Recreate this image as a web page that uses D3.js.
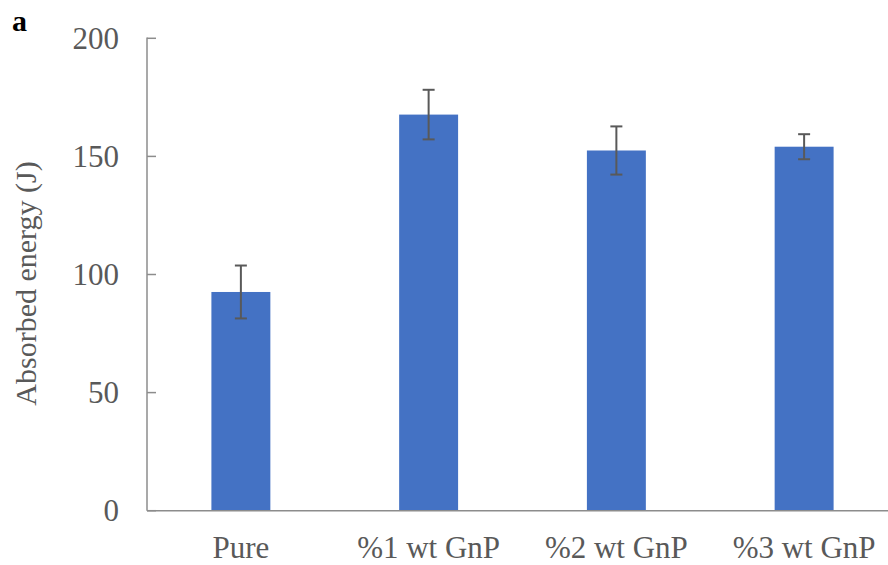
<!DOCTYPE html>
<html><head><meta charset="utf-8">
<script src="https://cdn.jsdelivr.net/npm/d3@7"></script>
<style>body{margin:0;background:#fff}svg{display:block}</style>
</head><body>
<svg id="c" width="888" height="565"></svg>
<script>
const categories = ["Pure", "%1 wt GnP", "%2 wt GnP", "%3 wt GnP"];
const values = [92.6, 167.7, 152.5, 154.1];
const errors = [11.2, 10.5, 10.2, 5.3];
const yTicks = [0, 50, 100, 150, 200];

(function () {
const svg = d3.select("#c");
const mLeft = 147, mRight = 898, mTop = 38.3, mBottom = 510.7;
const x = d3.scaleBand().domain(categories).range([mLeft, mRight]).paddingInner(0.686).paddingOuter(0.343);
const y = d3.scaleLinear().domain([0, 200]).range([mBottom, mTop]);
const font = "'Liberation Serif','Times New Roman',serif";
const grey = "#595959";

// bars
svg.selectAll("rect.bar").data(values).join("rect")
  .attr("class", "bar")
  .attr("x", (d, i) => x(categories[i]))
  .attr("y", d => y(d))
  .attr("width", x.bandwidth())
  .attr("height", d => y(0) - y(d))
  .attr("fill", "#4472C4");

// error bars
const eb = svg.append("g").attr("stroke", grey).attr("stroke-width", 2);
values.forEach((v, i) => {
  const cx = x(categories[i]) + x.bandwidth() / 2;
  eb.append("line").attr("x1", cx).attr("x2", cx).attr("y1", y(v + errors[i])).attr("y2", y(v - errors[i]));
  [v + errors[i], v - errors[i]].forEach(e => {
    eb.append("line").attr("x1", cx - 6).attr("x2", cx + 6).attr("y1", y(e)).attr("y2", y(e));
  });
});

// y axis
const ya = svg.append("g").attr("transform", `translate(${mLeft},0)`)
  .call(d3.axisLeft(y).tickValues(yTicks).tickSize(0).tickPadding(28));
ya.select(".domain").remove();
ya.selectAll("text").attr("font-family", font).attr("font-size", 31).attr("fill", grey);
svg.append("g").selectAll("line").data(yTicks).join("line")
  .attr("x1", mLeft).attr("x2", mLeft + 9).attr("y1", d => y(d)).attr("y2", d => y(d))
  .attr("stroke", "#8c8c8c").attr("stroke-width", 1.5);
svg.append("line").attr("x1", mLeft).attr("x2", mLeft).attr("y1", mTop - 0.75).attr("y2", mBottom)
  .attr("stroke", "#8c8c8c").attr("stroke-width", 1.5);

// x axis
svg.append("line").attr("x1", mLeft).attr("x2", 888).attr("y1", mBottom).attr("y2", mBottom)
  .attr("stroke", "#8c8c8c").attr("stroke-width", 1.5);
const xa = svg.append("g").attr("transform", `translate(0,${mBottom})`)
  .call(d3.axisBottom(x).tickSize(0).tickPadding(0));
xa.select(".domain").remove();
xa.selectAll("text").attr("font-family", font).attr("font-size", 31).attr("fill", grey)
  .attr("dy", null).attr("y", 47);

// y label
svg.append("text").attr("transform", "translate(36,283.5) rotate(-90)")
  .attr("text-anchor", "middle").attr("font-family", font).attr("font-size", 30).attr("fill", grey)
  .text("Absorbed energy (J)");

// panel letter
svg.append("text").attr("x", 12).attr("y", 31).attr("font-family", font).attr("font-size", 30)
  .attr("font-weight", "bold").attr("fill", "#000").text("a");
})();
</script>
</body></html>
